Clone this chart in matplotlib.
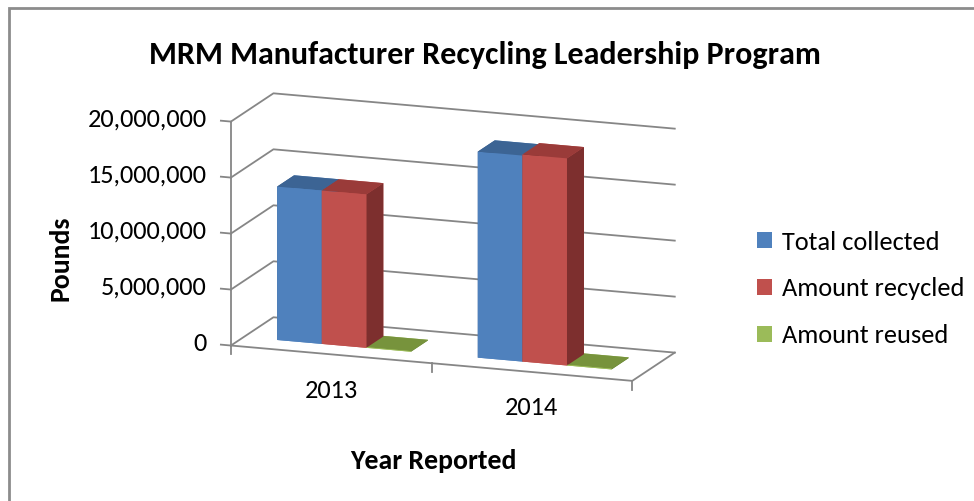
import matplotlib.pyplot as plt
from matplotlib import font_manager
from matplotlib.patches import Patch, Rectangle
from mpl_toolkits.mplot3d import proj3d

years = ["2013", "2014"]
series_names = ["Total collected", "Amount recycled", "Amount reused"]
total_collected = [13700000, 18400000]
amount_recycled = [13700000, 18500000]
amount_reused = [60000, 70000]
value_ticks = [0, 5000000, 10000000, 15000000, 20000000]
value_tick_labels = ["0", "5,000,000", "10,000,000", "15,000,000", "20,000,000"]

front_colors = ["#4F81BD", "#C0504D", "#9BBB59"]
top_colors = ["#3C6494", "#9A3B39", "#77933C"]
side_colors = ["#3A5E8C", "#7D2F2E", "#5F7A2E"]
grid_color = "#868686"

names = {f.name for f in font_manager.fontManager.ttflist}
font = "Carlito" if "Carlito" in names else "Lato"
plt.rcParams["font.family"] = [font, "DejaVu Sans"]

W, H = 974, 501
fig = plt.figure(figsize=(W / 100, H / 100), dpi=100)

# outer chart frame (right and bottom edges fall outside the picture)
fig.add_artist(Rectangle((8.5 / W, -0.1), 2, 1.1 - 8.5 / H, transform=fig.transFigure,
                         fill=False, edgecolor="#8c8c8c", lw=2))

ax = fig.add_axes([-26.6 / W, 14.1 / H, 0.971, 0.971], projection="3d", computed_zorder=False)
ax.set_proj_type("ortho")
ax.view_init(elev=14, azim=-70)
ax.set_box_aspect((433, 126, 234))
ax.set_xlim(0, 2)
ax.set_ylim(0, 1)
ax.set_zlim(0, 20000000)
ax.set_axis_off()

zmax = value_ticks[-1]
# walls: gridlines on left wall and back wall
for z in value_ticks:
    ax.plot([0, 0, 2], [0, 1, 1], [z, z, z], color=grid_color, lw=1.3, zorder=1)
    ax.plot([-0.05, 0], [0, 0], [z, z], color=grid_color, lw=1.3, zorder=1)
ax.plot([0, 0], [0, 0], [0, zmax], color=grid_color, lw=1.3, zorder=1)
# floor edges and category ticks
ax.plot([0, 2, 2], [0, 0, 1], [0, 0, 0], color=grid_color, lw=1.3, zorder=3)
for x in [0, 1, 2]:
    ax.plot([x, x], [0, 0], [0, -800000], color=grid_color, lw=1.3, zorder=3)

# bars, Excel 3-D clustered column: gap width 150%, gap depth 150%
w = 1 / 4.5
depth = 0.4
values = [total_collected, amount_recycled, amount_reused]
xs, ys, dzs, cols = [], [], [], []
for c in range(len(years)):
    for s in range(len(series_names)):
        xs.append(c + 0.5 - 1.5 * w + s * w)
        ys.append((1 - depth) / 2)
        dzs.append(values[s][c])
        f, t, sd = front_colors[s], top_colors[s], side_colors[s]
        cols += [f, t, f, f, sd, sd]
ax.bar3d(xs, ys, [0] * len(xs), w, depth, dzs, color=cols, shade=False, zorder=2)

# axis labels placed at projected positions as plain 2D text
M = ax.get_proj()


def label(x, y, z, s, **kw):
    px, py, _ = proj3d.proj_transform(x, y, z, M)
    ax.text2D(px, py, s, transform=ax.transData, fontsize=19, **kw)


for z, lab in zip(value_ticks, value_tick_labels):
    label(-0.12, 0, z, lab, ha="right", va="center")
for c, yr in enumerate(years):
    label(c + 0.5, 0, -3200000, yr, ha="center", va="center")

fig.text(485 / W, 1 - 55 / H, "MRM Manufacturer Recycling Leadership Program",
         ha="center", va="center", fontsize=23, fontweight="bold")
fig.text(60 / W, 1 - 258 / H, "Pounds", rotation=90, ha="center", va="center",
         fontsize=20, fontweight="bold")
fig.text(433 / W, 1 - 461 / H, "Year Reported", ha="center", va="center",
         fontsize=20, fontweight="bold")

handles = [Patch(facecolor=c, edgecolor="none") for c in front_colors]
fig.legend(handles, series_names, loc="center left", bbox_to_anchor=(757 / W, 1 - 289 / H),
           frameon=False, fontsize=19, handlelength=0.55, handleheight=0.55,
           handletextpad=0.4, labelspacing=0.9, borderpad=0, borderaxespad=0)

fig.savefig("out.png", dpi=100)
